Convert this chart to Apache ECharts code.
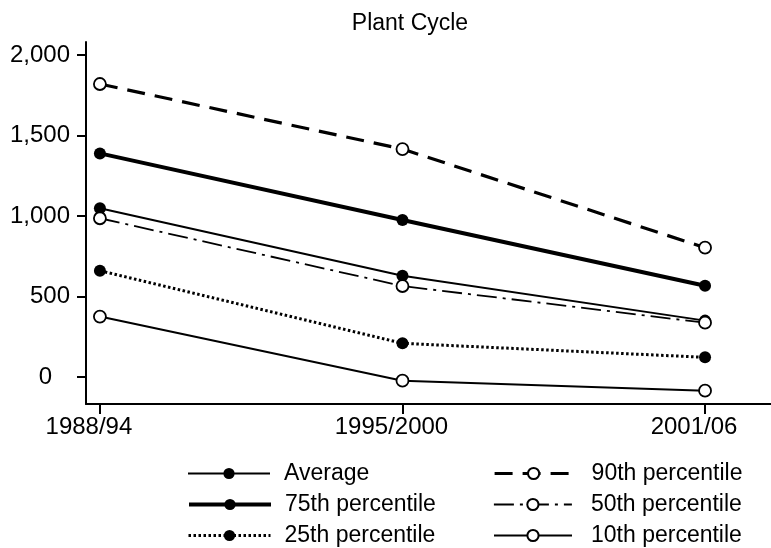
<!DOCTYPE html>
<html>
<head>
<meta charset="utf-8">
<script src="https://cdn.jsdelivr.net/npm/echarts@6/dist/echarts.min.js"></script>
<style>
  html, body { margin: 0; padding: 0; background: #fff; }
  #chart { width: 771px; height: 548px; }
</style>
</head>
<body>
<div id="chart"></div>
<script>
// periods on the x axis
const periods = ['1988/94', '1995/2000', '2001/06']
const yTicks = [0, 500, 1000, 1500, 2000]

// values
const average = [1048, 629, 350]
const p75 = [1389, 975, 567]
const p25 = [660, 209, 122]
const p90 = [1820, 1416, 803]
const p50 = [986, 565, 337]
const p10 = [375, -23, -85]

const FONT = '"Liberation Sans", Arial, sans-serif'

// line look per series: width, dash type, filled marker
const looks = {
  'Average': [2, 'solid', true],
  '75th percentile': [4, 'solid', true],
  '25th percentile': [3, [2.5, 2.5], true],
  '90th percentile': [3.2, [18, 10], false],
  '50th percentile': [1.8, [20, 6, 3, 6], false],
  '10th percentile': [2, 'solid', false],
}

function pts(values) {
  return values.map((v, i) => [i, v])
}

function makeSeries(name, values) {
  const [width, type, filled] = looks[name]
  return {
    name: name,
    type: 'line',
    data: pts(values),
    symbol: 'circle',
    symbolSize: 12,
    lineStyle: { color: '#000', width: width, type: type },
    itemStyle: {
      color: filled ? '#000' : '#fff',
      borderColor: '#000',
      borderWidth: filled ? 0 : 1.8,
    },
    emphasis: { disabled: true },
    animation: false,
    z: filled ? 3 : 4,
  }
}

// one legend per entry: name, left, row centre, icon width, gap before text
const legendRows = [
  ['Average', 187, 474, 82, 9],
  ['75th percentile', 187, 505, 82, 9],
  ['25th percentile', 187, 536, 82, 9],
  ['90th percentile', 493, 474, 78, 14],
  ['50th percentile', 493, 505, 78, 14],
  ['10th percentile', 493, 536, 78, 14],
]

const legends = legendRows.map(([name, x, y, w, gap]) => ({
  left: x,
  top: y - 12,
  padding: 0,
  itemWidth: w,
  itemHeight: 14,
  selectedMode: false,
  lineStyle: { width: looks[name][0] },
  textStyle: { fontFamily: FONT, fontSize: 23, color: '#000', padding: [0, 0, 0, gap] },
  data: [name],
}))

const chart = echarts.init(document.getElementById('chart'))

chart.setOption({
  backgroundColor: '#fff',
  title: {
    text: 'Plant Cycle',
    left: 405,
    textAlign: 'center',
    top: 7,
    textStyle: { fontFamily: FONT, fontSize: 23, fontWeight: 'normal', color: '#000' },
  },
  grid: { left: 86, right: 0, top: 42, bottom: 144 },
  xAxis: {
    type: 'value',
    min: -0.046,
    max: 2.218,
    splitLine: { show: false },
    axisLine: { onZero: false, lineStyle: { color: '#000', width: 2 } },
    axisTick: {
      customValues: [0, 1, 2],
      length: 10,
      lineStyle: { color: '#000', width: 2 },
    },
    axisLabel: {
      customValues: [0, 1, 2],
      formatter: (v) => periods[Math.round(v)],
      margin: 11,
      padding: [0, 22, 0, 0],
      fontFamily: FONT,
      fontSize: 24,
      color: '#000',
    },
  },
  yAxis: {
    type: 'value',
    min: -168,
    max: 2081,
    splitLine: { show: false },
    axisLine: { show: true, onZero: false, lineStyle: { color: '#000', width: 2 } },
    axisTick: {
      show: true,
      customValues: yTicks,
      length: 9,
      lineStyle: { color: '#000', width: 2 },
    },
    axisLabel: {
      customValues: yTicks,
      formatter: (v) => (v === 0 ? '{z|0}' : v.toLocaleString('en-US')),
      rich: { z: { padding: [0, 18, 0, 0], fontFamily: FONT, fontSize: 24, color: '#000' } },
      margin: 16,
      fontFamily: FONT,
      fontSize: 24,
      color: '#000',
    },
  },
  legend: legends,
  series: [
    makeSeries('Average', average),
    makeSeries('75th percentile', p75),
    makeSeries('25th percentile', p25),
    makeSeries('90th percentile', p90),
    makeSeries('50th percentile', p50),
    makeSeries('10th percentile', p10),
  ],
})

window.addEventListener('resize', () => chart.resize())
</script>
</body>
</html>
